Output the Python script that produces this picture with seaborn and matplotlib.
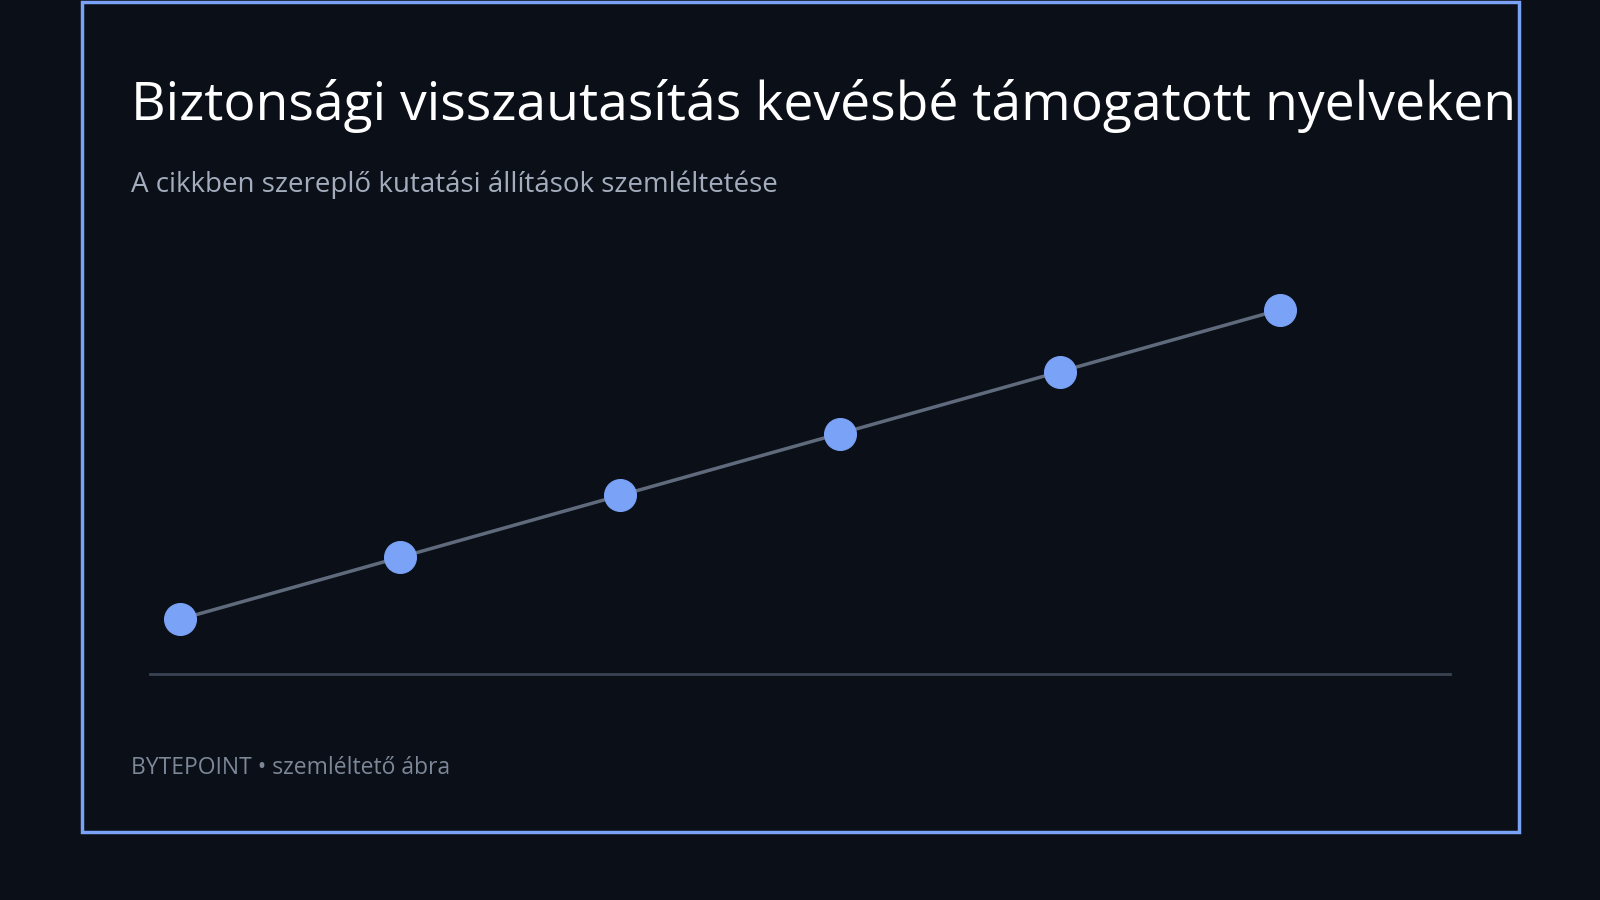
import matplotlib
matplotlib.use("Agg")
import matplotlib.pyplot as plt
import seaborn as sns
import pandas as pd
from matplotlib.patches import Rectangle

# adatok
steps = [0, 1, 2, 3, 4, 5]
values = [1, 2, 3, 4, 5, 6]
title = "Biztonsági visszautasítás kevésbé támogatott nyelveken"
subtitle = "A cikkben szereplő kutatási állítások szemléltetése"
footer = "BYTEPOINT • szemléltető ábra"

bg = "#0b0f17"
accent = "#7aa2f7"

sns.set_theme(style="white")
plt.rcParams['font.family'] = ['Open Sans', 'DejaVu Sans']

fig = plt.figure(figsize=(16, 9), dpi=100, facecolor=bg)
W, H = 1568, 882

# keret
fig.patches.append(Rectangle((80 / W, 1 - 815 / H), (1489 - 80) / W, (815 - 2) / H,
                             transform=fig.transFigure, fill=False,
                             edgecolor=accent, linewidth=2.5))

ax = fig.add_axes([147 / W, 1 - 661 / H, (1421 - 147) / W, (661 - 250) / H])
ax.set_facecolor(bg)
df = pd.DataFrame({"x": steps, "y": values})
sns.lineplot(data=df, x="x", y="y", ax=ax, color="#5f6b7d", linewidth=2.5,
             marker="o", markersize=23, markerfacecolor=accent,
             markeredgecolor=accent)
ax.set_xlim(-0.134, 5.77)
ax.set_ylim(0.11, 6.88)
ax.set_xticks([]); ax.set_yticks([])
ax.set_xlabel(""); ax.set_ylabel("")
for s in ["top", "left", "right"]:
    ax.spines[s].set_visible(False)
ax.spines["bottom"].set_color("#3a4352")
ax.spines["bottom"].set_linewidth(2)

fig.text(128 / W, 1 - 104 / H, title, color="white", fontsize=38.5, va="center")
fig.text(128 / W, 1 - 181 / H, subtitle, color="#a3adbd", fontsize=20, va="center")
fig.text(128 / W, 1 - 753 / H, footer, color="#7c8797", fontsize=16.5, va="center")

fig.savefig("out.png", facecolor=bg)
